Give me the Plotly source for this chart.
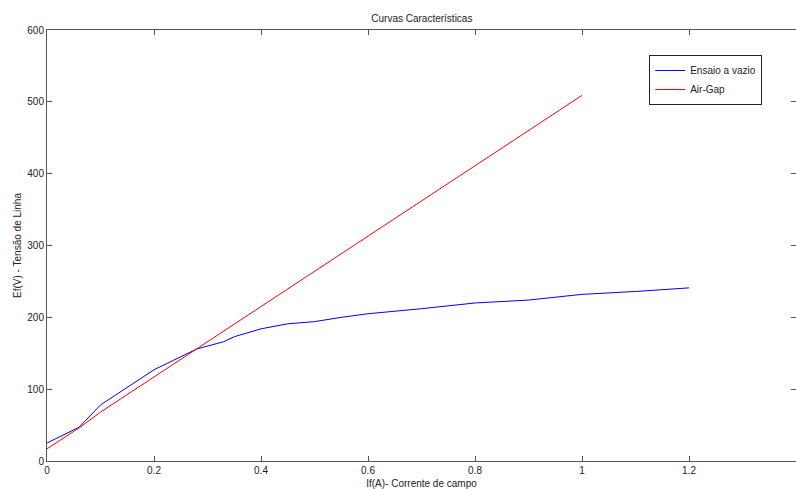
import plotly.graph_objects as go

# Open-circuit test (field current vs. line voltage)
if_vazio = [0, 0.06, 0.1, 0.2, 0.28, 0.33, 0.35, 0.4, 0.45, 0.5, 0.55, 0.6,
            0.7, 0.75, 0.8, 0.9, 0.95, 1.0, 1.1, 1.2]
ef_vazio = [25, 47, 78, 127, 156, 166, 173, 184, 191, 194, 200, 205,
            212, 216, 220, 224, 228, 232, 236, 241]

# Air-gap line
if_airgap = [0, 0.06, 0.1, 0.2, 0.28, 0.4, 0.6, 0.8, 1.0]
ef_airgap = [17, 46, 68, 117, 156, 214, 312, 410, 509]

x_ticks = [0, 0.2, 0.4, 0.6, 0.8, 1, 1.2, 1.4]
x_tick_text = ["0", "0.2", "0.4", "0.6", "0.8", "1", "1.2", "1.4"]
y_ticks = [0, 100, 200, 300, 400, 500, 600]

font = dict(family="Liberation Sans, Arial, sans-serif", size=10, color="#222222")

fig = go.Figure()
fig.add_trace(go.Scatter(x=if_vazio, y=ef_vazio, mode="lines", name="Ensaio a vazio",
                         line=dict(color="#0000ff", width=1)))
fig.add_trace(go.Scatter(x=if_airgap, y=ef_airgap, mode="lines", name="Air-Gap",
                         line=dict(color="#ff0000", width=1)))

axis_common = dict(showline=True, linecolor="#555555", linewidth=1, mirror="ticks",
                   ticks="inside", ticklen=5, tickcolor="#555555", showgrid=False,
                   zeroline=False, tickfont=font)

fig.update_layout(
    width=796, height=489,
    margin=dict(l=47, r=0, t=30, b=28),
    paper_bgcolor="white", plot_bgcolor="white",
    font=font,
    title=dict(text="Curvas Características", x=0.53, xanchor="center",
               y=1 - 18 / 489, yanchor="middle", yref="container",
               font=font),
    xaxis=dict(range=[0, 1.4], tickvals=x_ticks, ticktext=x_tick_text,
               title=dict(text="If(A)- Corrente de campo", standoff=4, font=font),
               **axis_common),
    yaxis=dict(range=[0, 600], tickvals=y_ticks,
               title=dict(text="Ef(V) - Tensão de Linha", standoff=3, font=font),
               **axis_common),
    legend=dict(x=0.804, y=0.942, xanchor="left", yanchor="top",
                bordercolor="#222222", borderwidth=1, bgcolor="white",
                font=font, tracegroupgap=0, itemwidth=30),
    showlegend=True,
)

fig.write_html("out.html")
